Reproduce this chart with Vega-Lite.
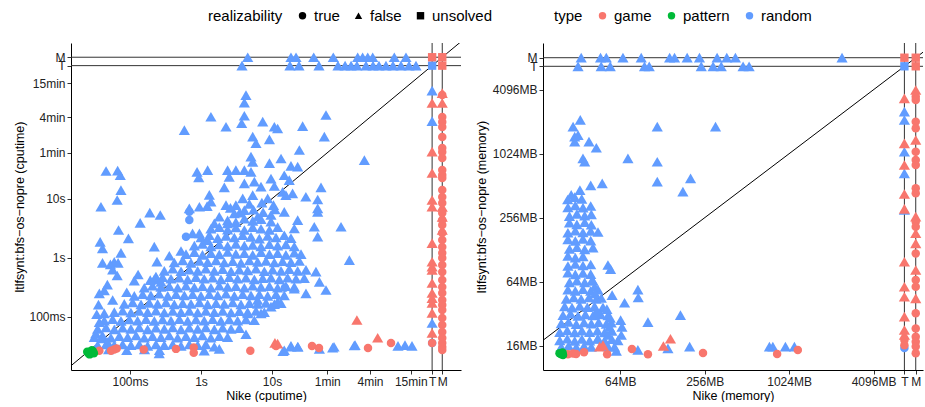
{
"$schema":"https://vega.github.io/schema/vega-lite/v6.json",
"padding":{"left":13,"top":8,"right":0,"bottom":0},
"bounds":"flush",
"spacing":82,
"config":{"font":"Liberation Sans","view":{"stroke":null},
"axis":{"domainColor":"#000","domainWidth":1,"tickColor":"#333","tickSize":4,"labelColor":"#222","labelFontSize":12,"labelPadding":2,"titleFontSize":12.5,"titleFontWeight":"normal","titleColor":"#000","grid":false,"labelOverlap":false,"labelFlush":false,"labelBound":false},
"legend":{"titleFontWeight":"normal","titleFontSize":15,"labelFontSize":15,"titleColor":"#000","labelColor":"#000","symbolSize":55,"symbolStrokeWidth":0}},
"resolve":{"legend":{"color":"independent","shape":"independent"}},
"datasets":{
"cpu":[
{"x":3.5,"y":5.8,"t":"random","r":"false"},{"x":5.5,"y":6.5,"t":"random","r":"false"},{"x":7.5,"y":5.9,"t":"random","r":"false"},{"x":11,"y":6.6,"t":"random","r":"false"},{"x":4.8,"y":8.2,"t":"random","r":"false"},{"x":7.2,"y":8.6,"t":"random","r":"false"},{"x":10.5,"y":7.8,"t":"random","r":"false"},{"x":2.6,"y":7.0,"t":"random","r":"false"},
{"x":0.036,"y":0.16,"t":"random","r":"false"},{"x":0.048,"y":0.35,"t":"random","r":"false"},{"x":0.066,"y":0.5,"t":"random","r":"false"},{"x":0.034,"y":0.11,"t":"random","r":"false"},{"x":0.09,"y":0.26,"t":"random","r":"false"},{"x":0.13,"y":0.52,"t":"random","r":"false"},
{"x":2.37,"y":4.3,"t":"random","r":"false"},{"x":3.1,"y":4.0,"t":"random","r":"false"},{"x":4.08,"y":4.6,"t":"random","r":"false"},{"x":5.35,"y":4.2,"t":"random","r":"false"},{"x":7.0,"y":4.5,"t":"random","r":"false"},{"x":9.68,"y":4.1,"t":"random","r":"false"},
{"x":1.38,"y":3.1,"t":"random","r":"false"},{"x":1.81,"y":3.3,"t":"random","r":"false"},{"x":2.37,"y":3.0,"t":"random","r":"false"},{"x":3.1,"y":3.25,"t":"random","r":"false"},{"x":4.08,"y":2.95,"t":"random","r":"false"},{"x":5.35,"y":3.3,"t":"random","r":"false"},{"x":7.0,"y":3.1,"t":"random","r":"false"},{"x":9.2,"y":2.95,"t":"random","r":"false"},{"x":12.0,"y":3.3,"t":"random","r":"false"},
{"x":1.0,"y":2.2,"t":"random","r":"false"},{"x":1.31,"y":2.4,"t":"random","r":"false"},{"x":1.72,"y":2.15,"t":"random","r":"false"},{"x":2.25,"y":2.35,"t":"random","r":"false"},{"x":2.95,"y":2.2,"t":"random","r":"false"},{"x":3.87,"y":2.4,"t":"random","r":"false"},{"x":5.06,"y":2.25,"t":"random","r":"false"},{"x":6.63,"y":2.1,"t":"random","r":"false"},{"x":8.69,"y":2.35,"t":"random","r":"false"},{"x":11.4,"y":2.2,"t":"random","r":"false"},{"x":14.9,"y":2.4,"t":"random","r":"false"},{"x":18.5,"y":2.15,"t":"random","r":"false"},
{"x":0.806,"y":1.6,"t":"random","r":"false"},{"x":1.05,"y":1.72,"t":"random","r":"false"},{"x":1.38,"y":1.55,"t":"random","r":"false"},{"x":1.81,"y":1.68,"t":"random","r":"false"},{"x":2.37,"y":1.58,"t":"random","r":"false"},{"x":3.1,"y":1.72,"t":"random","r":"false"},{"x":4.08,"y":1.6,"t":"random","r":"false"},{"x":5.35,"y":1.65,"t":"random","r":"false"},{"x":7.0,"y":1.55,"t":"random","r":"false"},{"x":9.2,"y":1.7,"t":"random","r":"false"},{"x":12.0,"y":1.6,"t":"random","r":"false"},{"x":15.7,"y":1.68,"t":"random","r":"false"},{"x":20.6,"y":1.55,"t":"random","r":"false"},
{"x":0.615,"y":1.15,"t":"random","r":"false"},{"x":0.806,"y":1.24,"t":"random","r":"false"},{"x":1.05,"y":1.12,"t":"random","r":"false"},{"x":1.38,"y":1.2,"t":"random","r":"false"},{"x":1.81,"y":1.14,"t":"random","r":"false"},{"x":2.37,"y":1.25,"t":"random","r":"false"},{"x":3.1,"y":1.16,"t":"random","r":"false"},{"x":4.08,"y":1.2,"t":"random","r":"false"},{"x":5.35,"y":1.12,"t":"random","r":"false"},{"x":7.0,"y":1.24,"t":"random","r":"false"},{"x":9.2,"y":1.15,"t":"random","r":"false"},{"x":12.0,"y":1.2,"t":"random","r":"false"},{"x":15.7,"y":1.12,"t":"random","r":"false"},{"x":20.6,"y":1.22,"t":"random","r":"false"},{"x":25.6,"y":1.15,"t":"random","r":"false"},
{"x":0.421,"y":0.83,"t":"random","r":"false"},{"x":0.553,"y":0.9,"t":"random","r":"false"},{"x":0.723,"y":0.82,"t":"random","r":"false"},{"x":0.95,"y":0.88,"t":"random","r":"false"},{"x":1.24,"y":0.84,"t":"random","r":"false"},{"x":1.63,"y":0.9,"t":"random","r":"false"},{"x":2.13,"y":0.83,"t":"random","r":"false"},{"x":2.8,"y":0.87,"t":"random","r":"false"},{"x":3.66,"y":0.82,"t":"random","r":"false"},{"x":4.8,"y":0.9,"t":"random","r":"false"},{"x":6.28,"y":0.85,"t":"random","r":"false"},{"x":8.23,"y":0.88,"t":"random","r":"false"},{"x":10.8,"y":0.83,"t":"random","r":"false"},{"x":14.1,"y":0.87,"t":"random","r":"false"},{"x":18.5,"y":0.84,"t":"random","r":"false"},{"x":24.3,"y":0.88,"t":"random","r":"false"},
{"x":0.304,"y":0.6,"t":"random","r":"false"},{"x":0.4,"y":0.65,"t":"random","r":"false"},{"x":0.523,"y":0.59,"t":"random","r":"false"},{"x":0.685,"y":0.63,"t":"random","r":"false"},{"x":0.898,"y":0.6,"t":"random","r":"false"},{"x":1.17,"y":0.65,"t":"random","r":"false"},{"x":1.54,"y":0.6,"t":"random","r":"false"},{"x":2.02,"y":0.64,"t":"random","r":"false"},{"x":2.65,"y":0.59,"t":"random","r":"false"},{"x":3.47,"y":0.63,"t":"random","r":"false"},{"x":4.54,"y":0.61,"t":"random","r":"false"},{"x":5.95,"y":0.65,"t":"random","r":"false"},{"x":7.8,"y":0.59,"t":"random","r":"false"},{"x":10.2,"y":0.63,"t":"random","r":"false"},{"x":13.4,"y":0.6,"t":"random","r":"false"},{"x":17.5,"y":0.64,"t":"random","r":"false"},{"x":23,"y":0.6,"t":"random","r":"false"},{"x":30.1,"y":0.62,"t":"random","r":"false"},
{"x":0.22,"y":0.43,"t":"random","r":"false"},{"x":0.288,"y":0.47,"t":"random","r":"false"},{"x":0.378,"y":0.44,"t":"random","r":"false"},{"x":0.496,"y":0.46,"t":"random","r":"false"},{"x":0.649,"y":0.43,"t":"random","r":"false"},{"x":0.85,"y":0.47,"t":"random","r":"false"},{"x":1.11,"y":0.44,"t":"random","r":"false"},{"x":1.46,"y":0.46,"t":"random","r":"false"},{"x":1.91,"y":0.43,"t":"random","r":"false"},{"x":2.5,"y":0.47,"t":"random","r":"false"},{"x":3.28,"y":0.44,"t":"random","r":"false"},{"x":4.3,"y":0.46,"t":"random","r":"false"},{"x":5.64,"y":0.43,"t":"random","r":"false"},{"x":7.4,"y":0.45,"t":"random","r":"false"},{"x":9.68,"y":0.46,"t":"random","r":"false"},{"x":12.7,"y":0.43,"t":"random","r":"false"},{"x":16.6,"y":0.46,"t":"random","r":"false"},{"x":21.8,"y":0.44,"t":"random","r":"false"},{"x":28.5,"y":0.45,"t":"random","r":"false"},
{"x":0.159,"y":0.31,"t":"random","r":"false"},{"x":0.208,"y":0.335,"t":"random","r":"false"},{"x":0.273,"y":0.32,"t":"random","r":"false"},{"x":0.358,"y":0.33,"t":"random","r":"false"},{"x":0.469,"y":0.31,"t":"random","r":"false"},{"x":0.615,"y":0.335,"t":"random","r":"false"},{"x":0.806,"y":0.315,"t":"random","r":"false"},{"x":1.05,"y":0.33,"t":"random","r":"false"},{"x":1.38,"y":0.31,"t":"random","r":"false"},{"x":1.81,"y":0.335,"t":"random","r":"false"},{"x":2.37,"y":0.32,"t":"random","r":"false"},{"x":3.1,"y":0.33,"t":"random","r":"false"},{"x":4.08,"y":0.31,"t":"random","r":"false"},{"x":5.35,"y":0.335,"t":"random","r":"false"},{"x":7.0,"y":0.32,"t":"random","r":"false"},{"x":9.2,"y":0.33,"t":"random","r":"false"},{"x":12.0,"y":0.31,"t":"random","r":"false"},{"x":15.7,"y":0.33,"t":"random","r":"false"},{"x":20.6,"y":0.32,"t":"random","r":"false"},
{"x":0.115,"y":0.225,"t":"random","r":"false"},{"x":0.151,"y":0.24,"t":"random","r":"false"},{"x":0.197,"y":0.23,"t":"random","r":"false"},{"x":0.258,"y":0.245,"t":"random","r":"false"},{"x":0.34,"y":0.225,"t":"random","r":"false"},{"x":0.445,"y":0.24,"t":"random","r":"false"},{"x":0.583,"y":0.23,"t":"random","r":"false"},{"x":0.764,"y":0.24,"t":"random","r":"false"},{"x":1.0,"y":0.225,"t":"random","r":"false"},{"x":1.31,"y":0.24,"t":"random","r":"false"},{"x":1.72,"y":0.23,"t":"random","r":"false"},{"x":2.25,"y":0.245,"t":"random","r":"false"},{"x":2.95,"y":0.225,"t":"random","r":"false"},{"x":3.87,"y":0.24,"t":"random","r":"false"},{"x":5.06,"y":0.23,"t":"random","r":"false"},{"x":6.63,"y":0.24,"t":"random","r":"false"},{"x":8.69,"y":0.225,"t":"random","r":"false"},{"x":11.4,"y":0.24,"t":"random","r":"false"},{"x":14.9,"y":0.23,"t":"random","r":"false"},
{"x":0.0831,"y":0.165,"t":"random","r":"false"},{"x":0.109,"y":0.175,"t":"random","r":"false"},{"x":0.143,"y":0.162,"t":"random","r":"false"},{"x":0.187,"y":0.172,"t":"random","r":"false"},{"x":0.245,"y":0.165,"t":"random","r":"false"},{"x":0.321,"y":0.175,"t":"random","r":"false"},{"x":0.421,"y":0.162,"t":"random","r":"false"},{"x":0.553,"y":0.17,"t":"random","r":"false"},{"x":0.723,"y":0.165,"t":"random","r":"false"},{"x":0.95,"y":0.175,"t":"random","r":"false"},{"x":1.24,"y":0.162,"t":"random","r":"false"},{"x":1.63,"y":0.17,"t":"random","r":"false"},{"x":2.13,"y":0.165,"t":"random","r":"false"},{"x":2.8,"y":0.175,"t":"random","r":"false"},{"x":3.66,"y":0.162,"t":"random","r":"false"},{"x":4.8,"y":0.17,"t":"random","r":"false"},{"x":6.28,"y":0.165,"t":"random","r":"false"},{"x":8.23,"y":0.172,"t":"random","r":"false"},{"x":10.8,"y":0.163,"t":"random","r":"false"},{"x":13.4,"y":0.17,"t":"random","r":"false"},
{"x":0.0601,"y":0.12,"t":"random","r":"false"},{"x":0.0788,"y":0.127,"t":"random","r":"false"},{"x":0.103,"y":0.118,"t":"random","r":"false"},{"x":0.135,"y":0.125,"t":"random","r":"false"},{"x":0.177,"y":0.12,"t":"random","r":"false"},{"x":0.232,"y":0.127,"t":"random","r":"false"},{"x":0.304,"y":0.118,"t":"random","r":"false"},{"x":0.4,"y":0.125,"t":"random","r":"false"},{"x":0.523,"y":0.12,"t":"random","r":"false"},{"x":0.685,"y":0.126,"t":"random","r":"false"},{"x":0.898,"y":0.118,"t":"random","r":"false"},{"x":1.17,"y":0.125,"t":"random","r":"false"},{"x":1.54,"y":0.12,"t":"random","r":"false"},{"x":2.02,"y":0.126,"t":"random","r":"false"},{"x":2.65,"y":0.118,"t":"random","r":"false"},{"x":3.47,"y":0.124,"t":"random","r":"false"},{"x":4.54,"y":0.12,"t":"random","r":"false"},{"x":5.95,"y":0.125,"t":"random","r":"false"},{"x":7.8,"y":0.12,"t":"random","r":"false"},
{"x":0.0434,"y":0.086,"t":"random","r":"false"},{"x":0.057,"y":0.091,"t":"random","r":"false"},{"x":0.0746,"y":0.085,"t":"random","r":"false"},{"x":0.0977,"y":0.09,"t":"random","r":"false"},{"x":0.128,"y":0.086,"t":"random","r":"false"},{"x":0.168,"y":0.091,"t":"random","r":"false"},{"x":0.22,"y":0.085,"t":"random","r":"false"},{"x":0.288,"y":0.09,"t":"random","r":"false"},{"x":0.378,"y":0.086,"t":"random","r":"false"},{"x":0.496,"y":0.091,"t":"random","r":"false"},{"x":0.649,"y":0.085,"t":"random","r":"false"},{"x":0.85,"y":0.09,"t":"random","r":"false"},{"x":1.11,"y":0.086,"t":"random","r":"false"},{"x":1.46,"y":0.091,"t":"random","r":"false"},{"x":1.91,"y":0.085,"t":"random","r":"false"},{"x":2.5,"y":0.09,"t":"random","r":"false"},{"x":3.28,"y":0.086,"t":"random","r":"false"},{"x":4.3,"y":0.09,"t":"random","r":"false"},{"x":5.64,"y":0.087,"t":"random","r":"false"},
{"x":0.035,"y":0.062,"t":"random","r":"false"},{"x":0.046,"y":0.066,"t":"random","r":"false"},{"x":0.0601,"y":0.061,"t":"random","r":"false"},{"x":0.0788,"y":0.065,"t":"random","r":"false"},{"x":0.103,"y":0.062,"t":"random","r":"false"},{"x":0.135,"y":0.066,"t":"random","r":"false"},{"x":0.177,"y":0.061,"t":"random","r":"false"},{"x":0.232,"y":0.065,"t":"random","r":"false"},{"x":0.304,"y":0.062,"t":"random","r":"false"},{"x":0.4,"y":0.066,"t":"random","r":"false"},{"x":0.523,"y":0.061,"t":"random","r":"false"},{"x":0.685,"y":0.065,"t":"random","r":"false"},{"x":0.898,"y":0.062,"t":"random","r":"false"},{"x":1.17,"y":0.066,"t":"random","r":"false"},{"x":1.54,"y":0.061,"t":"random","r":"false"},{"x":2.02,"y":0.065,"t":"random","r":"false"},{"x":2.65,"y":0.062,"t":"random","r":"false"},{"x":3.47,"y":0.064,"t":"random","r":"false"},
{"x":0.0314,"y":0.045,"t":"random","r":"false"},{"x":0.041,"y":0.048,"t":"random","r":"false"},{"x":0.0539,"y":0.044,"t":"random","r":"false"},{"x":0.0707,"y":0.047,"t":"random","r":"false"},{"x":0.0927,"y":0.045,"t":"random","r":"false"},{"x":0.122,"y":0.048,"t":"random","r":"false"},{"x":0.159,"y":0.044,"t":"random","r":"false"},{"x":0.208,"y":0.047,"t":"random","r":"false"},{"x":0.273,"y":0.045,"t":"random","r":"false"},{"x":0.358,"y":0.048,"t":"random","r":"false"},{"x":0.469,"y":0.044,"t":"random","r":"false"},{"x":0.615,"y":0.047,"t":"random","r":"false"},{"x":0.806,"y":0.045,"t":"random","r":"false"},{"x":1.05,"y":0.048,"t":"random","r":"false"},{"x":1.38,"y":0.044,"t":"random","r":"false"},{"x":1.81,"y":0.047,"t":"random","r":"false"},{"x":2.37,"y":0.045,"t":"random","r":"false"},
{"x":0.035,"y":0.033,"t":"random","r":"false"},{"x":0.046,"y":0.034,"t":"random","r":"false"},{"x":0.0601,"y":0.032,"t":"random","r":"false"},{"x":0.0788,"y":0.034,"t":"random","r":"false"},{"x":0.103,"y":0.033,"t":"random","r":"false"},{"x":0.135,"y":0.034,"t":"random","r":"false"},{"x":0.177,"y":0.032,"t":"random","r":"false"},{"x":0.232,"y":0.034,"t":"random","r":"false"},{"x":0.304,"y":0.033,"t":"random","r":"false"},{"x":0.4,"y":0.034,"t":"random","r":"false"},{"x":0.523,"y":0.032,"t":"random","r":"false"},{"x":0.685,"y":0.034,"t":"random","r":"false"},{"x":0.898,"y":0.033,"t":"random","r":"false"},{"x":1.17,"y":0.034,"t":"random","r":"false"},
{"x":0.05,"y":0.028,"t":"random","r":"false"},{"x":0.09,"y":0.027,"t":"random","r":"false"},{"x":0.16,"y":0.028,"t":"random","r":"false"},{"x":0.26,"y":0.027,"t":"random","r":"false"},
{"x":4.3,"y":570,"t":"random","r":"false"},{"x":4.08,"y":425,"t":"random","r":"false"},{"x":1.38,"y":245,"t":"random","r":"false"},{"x":4.08,"y":255,"t":"random","r":"false"},{"x":3.74,"y":190,"t":"random","r":"false"},{"x":2.25,"y":166,"t":"random","r":"false"},{"x":0.583,"y":145,"t":"random","r":"false"},{"x":7.4,"y":203,"t":"random","r":"false"},{"x":10.8,"y":166,"t":"random","r":"false"},{"x":12.0,"y":155,"t":"random","r":"false"},{"x":27,"y":170,"t":"random","r":"false"},{"x":57.6,"y":262,"t":"random","r":"false"},{"x":54.6,"y":113,"t":"random","r":"false"},{"x":5.35,"y":113,"t":"random","r":"false"},{"x":5.95,"y":87,"t":"random","r":"false"},{"x":9.2,"y":101,"t":"random","r":"false"},{"x":24.3,"y":67,"t":"random","r":"false"},{"x":5.06,"y":51.5,"t":"random","r":"false"},{"x":5.35,"y":42,"t":"random","r":"false"},{"x":9.2,"y":40,"t":"random","r":"false"},{"x":13.4,"y":48,"t":"random","r":"false"},{"x":18.5,"y":36,"t":"random","r":"false"},{"x":23,"y":35,"t":"random","r":"false"},{"x":200,"y":45,"t":"random","r":"false"},
{"x":0.046,"y":29.5,"t":"random","r":"false"},{"x":0.067,"y":30,"t":"random","r":"false"},{"x":0.073,"y":25,"t":"random","r":"false"},{"x":0.88,"y":28.5,"t":"random","r":"false"},{"x":0.93,"y":23,"t":"random","r":"false"},{"x":1.24,"y":30.5,"t":"random","r":"false"},{"x":2.37,"y":30.5,"t":"random","r":"false"},{"x":2.5,"y":23.5,"t":"random","r":"false"},{"x":3.1,"y":30.5,"t":"random","r":"false"},{"x":4.08,"y":30.5,"t":"random","r":"false"},{"x":5.06,"y":28.5,"t":"random","r":"false"},{"x":5.64,"y":19.5,"t":"random","r":"false"},{"x":4.08,"y":18.2,"t":"random","r":"false"},{"x":9.68,"y":21.9,"t":"random","r":"false"},{"x":14.9,"y":25,"t":"random","r":"false"},{"x":17.5,"y":20.7,"t":"random","r":"false"},{"x":2.13,"y":15.6,"t":"random","r":"false"},{"x":7.0,"y":16,"t":"random","r":"false"},{"x":10.8,"y":16.4,"t":"random","r":"false"},{"x":14.1,"y":13.1,"t":"random","r":"false"},{"x":19.5,"y":12.3,"t":"random","r":"false"},{"x":49,"y":15.6,"t":"random","r":"false"},
{"x":0.0746,"y":14,"t":"random","r":"false"},{"x":0.066,"y":9.5,"t":"random","r":"false"},{"x":0.039,"y":7.3,"t":"random","r":"false"},{"x":1.31,"y":11.6,"t":"random","r":"false"},{"x":1.38,"y":8.9,"t":"random","r":"false"},{"x":0.685,"y":6.85,"t":"random","r":"false"},{"x":0.95,"y":7.3,"t":"random","r":"false"},{"x":1.22,"y":7.5,"t":"random","r":"false"},{"x":2.25,"y":7.8,"t":"random","r":"false"},{"x":3.1,"y":7.8,"t":"random","r":"false"},{"x":3.87,"y":10.1,"t":"random","r":"false"},{"x":5.35,"y":11.5,"t":"random","r":"false"},{"x":8.69,"y":10.1,"t":"random","r":"false"},{"x":15.7,"y":11.5,"t":"random","r":"false"},{"x":30,"y":10.8,"t":"random","r":"false"},{"x":44,"y":9.7,"t":"random","r":"false"},{"x":44,"y":6.85,"t":"random","r":"false"},{"x":44,"y":6.0,"t":"random","r":"false"},
{"x":0.19,"y":5.8,"t":"random","r":"false"},{"x":0.267,"y":5.3,"t":"random","r":"false"},{"x":0.139,"y":3.9,"t":"random","r":"false"},{"x":0.069,"y":2.95,"t":"random","r":"false"},{"x":0.095,"y":2.12,"t":"random","r":"false"},{"x":0.038,"y":1.85,"t":"random","r":"false"},{"x":0.041,"y":1.44,"t":"random","r":"false"},{"x":0.0746,"y":1.21,"t":"random","r":"false"},{"x":0.041,"y":0.82,"t":"random","r":"false"},{"x":0.053,"y":0.77,"t":"random","r":"false"},{"x":0.06,"y":0.85,"t":"random","r":"false"},{"x":0.068,"y":0.82,"t":"random","r":"false"},{"x":0.057,"y":0.63,"t":"random","r":"false"},{"x":0.22,"y":1.54,"t":"random","r":"false"},{"x":0.24,"y":0.86,"t":"random","r":"false"},{"x":0.115,"y":0.41,"t":"random","r":"false"},{"x":0.193,"y":0.418,"t":"random","r":"false"},{"x":0.232,"y":0.48,"t":"random","r":"false"},{"x":0.273,"y":0.39,"t":"random","r":"false"},{"x":0.358,"y":1.08,"t":"random","r":"false"},{"x":0.523,"y":1.3,"t":"random","r":"false"},
{"x":0.76,"y":2.58,"t":"random","r":"false"},{"x":0.95,"y":2.58,"t":"random","r":"false"},{"x":1.24,"y":1.99,"t":"random","r":"false"},{"x":1.54,"y":3.83,"t":"random","r":"false"},{"x":1.81,"y":4.95,"t":"random","r":"false"},{"x":2.37,"y":3.83,"t":"random","r":"false"},{"x":2.95,"y":5.64,"t":"random","r":"false"},{"x":4.08,"y":6.4,"t":"random","r":"false"},{"x":6.28,"y":4.95,"t":"random","r":"false"},{"x":9.68,"y":5.3,"t":"random","r":"false"},{"x":14.9,"y":6.0,"t":"random","r":"false"},{"x":23,"y":4.35,"t":"random","r":"false"},{"x":20.6,"y":3.13,"t":"random","r":"false"},{"x":39.4,"y":3.35,"t":"random","r":"false"},{"x":44,"y":2.27,"t":"random","r":"false"},{"x":93.8,"y":3.35,"t":"random","r":"false"},{"x":123,"y":0.913,"t":"random","r":"false"},{"x":41.6,"y":0.58,"t":"random","r":"false"},{"x":46.5,"y":0.39,"t":"random","r":"false"},{"x":57.6,"y":0.284,"t":"random","r":"false"},{"x":30.1,"y":0.249,"t":"random","r":"false"},{"x":20.6,"y":0.3,"t":"random","r":"false"},{"x":12,"y":0.18,"t":"random","r":"false"},{"x":6.28,"y":0.192,"t":"random","r":"false"},{"x":7.0,"y":0.114,"t":"random","r":"false"},{"x":4.54,"y":0.114,"t":"random","r":"false"},{"x":9.68,"y":0.148,"t":"random","r":"false"},{"x":4.3,"y":0.0505,"t":"random","r":"false"},
{"x":18.5,"y":0.031,"t":"random","r":"false"},{"x":23,"y":0.031,"t":"random","r":"false"},{"x":14.9,"y":0.027,"t":"random","r":"false"},{"x":46.5,"y":0.0285,"t":"random","r":"false"},{"x":71.5,"y":0.03,"t":"random","r":"false"},{"x":144,"y":0.0325,"t":"random","r":"false"},{"x":1.54,"y":0.031,"t":"random","r":"false"},{"x":1.81,"y":0.0285,"t":"random","r":"false"},{"x":1.11,"y":0.0266,"t":"random","r":"false"},{"x":0.258,"y":0.0239,"t":"random","r":"false"},{"x":0.0434,"y":0.28,"t":"random","r":"false"},{"x":0.037,"y":0.249,"t":"random","r":"false"},{"x":0.057,"y":0.192,"t":"random","r":"false"},{"x":0.0434,"y":0.114,"t":"random","r":"false"},{"x":0.037,"y":0.081,"t":"random","r":"false"},{"x":0.033,"y":0.052,"t":"random","r":"false"},{"x":0.041,"y":0.043,"t":"random","r":"false"},{"x":0.0484,"y":0.037,"t":"random","r":"false"},{"x":0.0601,"y":0.033,"t":"random","r":"false"},{"x":14.3,"y":0.026,"t":"random","r":"false"},{"x":18.5,"y":0.032,"t":"random","r":"false"},{"x":23.2,"y":0.031,"t":"random","r":"false"},{"x":74.7,"y":0.031,"t":"random","r":"false"},{"x":148,"y":0.033,"t":"random","r":"false"},{"x":595,"y":0.032,"t":"random","r":"false"},{"x":747,"y":0.033,"t":"random","r":"false"},{"x":937,"y":0.032,"t":"random","r":"false"},
{"x":4.55,"y":2500,"t":"random","r":"false"},{"x":18.5,"y":2500,"t":"random","r":"false"},{"x":21.8,"y":2500,"t":"random","r":"false"},{"x":38.7,"y":2500,"t":"random","r":"false"},{"x":73,"y":2500,"t":"random","r":"false"},{"x":161,"y":2500,"t":"random","r":"false"},{"x":189,"y":2500,"t":"random","r":"false"},{"x":223,"y":2500,"t":"random","r":"false"},{"x":262,"y":2500,"t":"random","r":"false"},{"x":528,"y":2500,"t":"random","r":"false"},{"x":771,"y":2500,"t":"random","r":"false"},
{"x":3.78,"y":1800,"t":"random","r":"false"},{"x":17.9,"y":1800,"t":"random","r":"false"},{"x":24,"y":1800,"t":"random","r":"false"},{"x":45.9,"y":1800,"t":"random","r":"false"},{"x":85,"y":1800,"t":"random","r":"false"},{"x":107,"y":1800,"t":"random","r":"false"},{"x":130,"y":1800,"t":"random","r":"false"},{"x":157,"y":1800,"t":"random","r":"false"},{"x":211,"y":1800,"t":"random","r":"false"},{"x":265,"y":1800,"t":"random","r":"false"},{"x":321,"y":1800,"t":"random","r":"false"},{"x":403,"y":1800,"t":"random","r":"false"},{"x":506,"y":1800,"t":"random","r":"false"},{"x":656,"y":1800,"t":"random","r":"false"},{"x":851,"y":1800,"t":"random","r":"false"},{"x":1067,"y":1800,"t":"random","r":"false"},
{"x":1800,"y":677,"t":"random","r":"false"},{"x":1800,"y":207,"t":"random","r":"false"},{"x":1800,"y":0.0782,"t":"random","r":"false"},
{"x":0.685,"y":6.0,"t":"random","r":"true"},{"x":0.685,"y":4.35,"t":"random","r":"true"},{"x":0.615,"y":2.27,"t":"random","r":"true"},{"x":15.2,"y":0.31,"t":"random","r":"true"},{"x":1800,"y":0.0358,"t":"random","r":"true"},
{"x":1800,"y":1800,"t":"random","r":"unsolved"},
{"x":1800,"y":419,"t":"game","r":"false"},{"x":1800,"y":62.6,"t":"game","r":"false"},{"x":1800,"y":27.3,"t":"game","r":"false"},{"x":1800,"y":9.5,"t":"game","r":"false"},{"x":1800,"y":7.32,"t":"game","r":"false"},{"x":1800,"y":1.77,"t":"game","r":"false"},{"x":1800,"y":0.855,"t":"game","r":"false"},{"x":1800,"y":0.704,"t":"game","r":"false"},{"x":1800,"y":0.619,"t":"game","r":"false"},{"x":1800,"y":0.373,"t":"game","r":"false"},{"x":1800,"y":0.252,"t":"game","r":"false"},{"x":1800,"y":0.207,"t":"game","r":"false"},{"x":1800,"y":0.171,"t":"game","r":"false"},{"x":1800,"y":0.116,"t":"game","r":"false"},{"x":1800,"y":0.053,"t":"game","r":"false"},{"x":1800,"y":0.0358,"t":"game","r":"true"},
{"x":2500,"y":617,"t":"game","r":"false"},{"x":2500,"y":419,"t":"game","r":"false"},{"x":2500,"y":7.23,"t":"game","r":"false"},{"x":2500,"y":4.9,"t":"game","r":"false"},{"x":2500,"y":2.95,"t":"game","r":"false"},
{"x":2500,"y":572,"t":"game","r":"true"},{"x":2500,"y":243,"t":"game","r":"true"},{"x":2500,"y":200,"t":"game","r":"true"},{"x":2500,"y":164,"t":"game","r":"true"},{"x":2500,"y":111,"t":"game","r":"true"},{"x":2500,"y":72.3,"t":"game","r":"true"},{"x":2500,"y":61.9,"t":"game","r":"true"},{"x":2500,"y":49,"t":"game","r":"true"},{"x":2500,"y":30.6,"t":"game","r":"true"},{"x":2500,"y":25.2,"t":"game","r":"true"},{"x":2500,"y":22.4,"t":"game","r":"true"},{"x":2500,"y":14,"t":"game","r":"true"},{"x":2500,"y":10.7,"t":"game","r":"true"},{"x":2500,"y":8.45,"t":"game","r":"true"},{"x":2500,"y":5.72,"t":"game","r":"true"},{"x":2500,"y":4.36,"t":"game","r":"true"},{"x":2500,"y":3.58,"t":"game","r":"true"},{"x":2500,"y":2.62,"t":"game","r":"true"},{"x":2500,"y":2.0,"t":"game","r":"true"},{"x":2500,"y":1.52,"t":"game","r":"true"},{"x":2500,"y":1.2,"t":"game","r":"true"},{"x":2500,"y":0.99,"t":"game","r":"true"},{"x":2500,"y":0.752,"t":"game","r":"true"},{"x":2500,"y":0.573,"t":"game","r":"true"},{"x":2500,"y":0.419,"t":"game","r":"true"},{"x":2500,"y":0.319,"t":"game","r":"true"},{"x":2500,"y":0.252,"t":"game","r":"true"},{"x":2500,"y":0.192,"t":"game","r":"true"},{"x":2500,"y":0.158,"t":"game","r":"true"},{"x":2500,"y":0.13,"t":"game","r":"true"},{"x":2500,"y":0.095,"t":"game","r":"true"},{"x":2500,"y":0.0723,"t":"game","r":"true"},{"x":2500,"y":0.055,"t":"game","r":"true"},{"x":2500,"y":0.0436,"t":"game","r":"true"},{"x":2500,"y":0.0358,"t":"game","r":"true"},{"x":2500,"y":0.0306,"t":"game","r":"true"},{"x":2500,"y":0.0273,"t":"game","r":"true"},
{"x":0.037,"y":0.0266,"t":"game","r":"true"},{"x":0.054,"y":0.0266,"t":"game","r":"true"},{"x":0.06,"y":0.0278,"t":"game","r":"true"},{"x":0.065,"y":0.029,"t":"game","r":"true"},{"x":0.156,"y":0.0278,"t":"game","r":"true"},{"x":0.445,"y":0.0285,"t":"game","r":"true"},{"x":0.79,"y":0.03,"t":"game","r":"true"},{"x":0.79,"y":0.0245,"t":"game","r":"true"},{"x":4.95,"y":0.0265,"t":"game","r":"true"},{"x":11.4,"y":0.032,"t":"game","r":"true"},{"x":36.6,"y":0.032,"t":"game","r":"true"},{"x":45.9,"y":0.0295,"t":"game","r":"true"},{"x":225,"y":0.0295,"t":"game","r":"true"},{"x":474,"y":0.0358,"t":"game","r":"true"},
{"x":11,"y":0.036,"t":"game","r":"false"},{"x":12,"y":0.035,"t":"game","r":"false"},{"x":157,"y":0.088,"t":"game","r":"false"},{"x":308,"y":0.044,"t":"game","r":"false"},
{"x":1800,"y":2500,"t":"game","r":"unsolved"},{"x":2500,"y":2500,"t":"game","r":"unsolved"},{"x":2500,"y":1800,"t":"game","r":"unsolved"},
{"x":0.026,"y":0.024,"t":"pattern","r":"true"},{"x":0.028,"y":0.025,"t":"pattern","r":"true"},{"x":0.03,"y":0.026,"t":"pattern","r":"true"},{"x":0.027,"y":0.023,"t":"pattern","r":"true"},{"x":0.029,"y":0.027,"t":"pattern","r":"true"},{"x":0.031,"y":0.024,"t":"pattern","r":"true"},{"x":0.025,"y":0.0255,"t":"pattern","r":"true"}
],
"mem":[
{"x":27,"y":380,"t":"random","r":"false"},{"x":30.3,"y":400,"t":"random","r":"false"},{"x":34,"y":385,"t":"random","r":"false"},
{"x":27.1,"y":320,"t":"random","r":"false"},{"x":30.6,"y":335,"t":"random","r":"false"},{"x":34.7,"y":318,"t":"random","r":"false"},{"x":39.4,"y":330,"t":"random","r":"false"},
{"x":27.8,"y":265,"t":"random","r":"false"},{"x":31.4,"y":278,"t":"random","r":"false"},{"x":35.7,"y":268,"t":"random","r":"false"},{"x":39.8,"y":275,"t":"random","r":"false"},
{"x":27.8,"y":230,"t":"random","r":"false"},{"x":31.4,"y":222,"t":"random","r":"false"},{"x":35.7,"y":232,"t":"random","r":"false"},{"x":39.8,"y":220,"t":"random","r":"false"},
{"x":27.1,"y":185,"t":"random","r":"false"},{"x":30.6,"y":193,"t":"random","r":"false"},{"x":34.7,"y":186,"t":"random","r":"false"},{"x":39.4,"y":192,"t":"random","r":"false"},{"x":44.4,"y":188,"t":"random","r":"false"},
{"x":27.1,"y":160,"t":"random","r":"false"},{"x":30.6,"y":155,"t":"random","r":"false"},{"x":34.7,"y":162,"t":"random","r":"false"},{"x":39.4,"y":156,"t":"random","r":"false"},
{"x":27.8,"y":130,"t":"random","r":"false"},{"x":31.4,"y":135,"t":"random","r":"false"},{"x":35.7,"y":129,"t":"random","r":"false"},{"x":40.9,"y":134,"t":"random","r":"false"},
{"x":27.1,"y":112,"t":"random","r":"false"},{"x":30.6,"y":108,"t":"random","r":"false"},{"x":34.7,"y":111,"t":"random","r":"false"},
{"x":27.1,"y":90,"t":"random","r":"false"},{"x":30.6,"y":94,"t":"random","r":"false"},{"x":34.7,"y":91,"t":"random","r":"false"},{"x":39.4,"y":93,"t":"random","r":"false"},
{"x":27.1,"y":78,"t":"random","r":"false"},{"x":30.6,"y":75,"t":"random","r":"false"},{"x":34.7,"y":77.5,"t":"random","r":"false"},{"x":39.4,"y":75.5,"t":"random","r":"false"},
{"x":27.8,"y":63,"t":"random","r":"false"},{"x":31.4,"y":65.5,"t":"random","r":"false"},{"x":35.7,"y":63,"t":"random","r":"false"},{"x":40.9,"y":65,"t":"random","r":"false"},
{"x":27.1,"y":54,"t":"random","r":"false"},{"x":30.6,"y":52.5,"t":"random","r":"false"},{"x":34.7,"y":54.5,"t":"random","r":"false"},{"x":39.4,"y":52.5,"t":"random","r":"false"},{"x":44.4,"y":54,"t":"random","r":"false"},
{"x":26.4,"y":44,"t":"random","r":"false"},{"x":29.8,"y":45.5,"t":"random","r":"false"},{"x":33.7,"y":44,"t":"random","r":"false"},{"x":38.3,"y":45.5,"t":"random","r":"false"},{"x":43.2,"y":44,"t":"random","r":"false"},{"x":46.9,"y":45,"t":"random","r":"false"},
{"x":25.7,"y":37.5,"t":"random","r":"false"},{"x":29,"y":36.5,"t":"random","r":"false"},{"x":32.9,"y":38,"t":"random","r":"false"},{"x":37.3,"y":36.8,"t":"random","r":"false"},{"x":42,"y":37.6,"t":"random","r":"false"},{"x":48.2,"y":36.8,"t":"random","r":"false"},
{"x":25,"y":31,"t":"random","r":"false"},{"x":28.3,"y":32,"t":"random","r":"false"},{"x":32,"y":30.6,"t":"random","r":"false"},{"x":36.1,"y":31.6,"t":"random","r":"false"},{"x":40.9,"y":30.8,"t":"random","r":"false"},{"x":46.4,"y":31.5,"t":"random","r":"false"},{"x":52.3,"y":30.8,"t":"random","r":"false"},
{"x":24.3,"y":26,"t":"random","r":"false"},{"x":27.4,"y":26.8,"t":"random","r":"false"},{"x":31.1,"y":25.6,"t":"random","r":"false"},{"x":35.3,"y":26.5,"t":"random","r":"false"},{"x":39.8,"y":25.8,"t":"random","r":"false"},{"x":44.9,"y":26.6,"t":"random","r":"false"},{"x":50.9,"y":25.7,"t":"random","r":"false"},{"x":55.2,"y":26.4,"t":"random","r":"false"},
{"x":23.7,"y":21.5,"t":"random","r":"false"},{"x":26.8,"y":22.3,"t":"random","r":"false"},{"x":30.3,"y":21.4,"t":"random","r":"false"},{"x":34.1,"y":22.2,"t":"random","r":"false"},{"x":38.7,"y":21.5,"t":"random","r":"false"},{"x":44,"y":22.2,"t":"random","r":"false"},{"x":49.5,"y":21.4,"t":"random","r":"false"},{"x":55.8,"y":22,"t":"random","r":"false"},
{"x":23.7,"y":18,"t":"random","r":"false"},{"x":26.8,"y":18.6,"t":"random","r":"false"},{"x":30.3,"y":17.8,"t":"random","r":"false"},{"x":34.1,"y":18.5,"t":"random","r":"false"},{"x":38.7,"y":17.9,"t":"random","r":"false"},{"x":44,"y":18.5,"t":"random","r":"false"},{"x":49.5,"y":17.9,"t":"random","r":"false"},{"x":55.8,"y":18.4,"t":"random","r":"false"},{"x":61.6,"y":18,"t":"random","r":"false"},
{"x":24.3,"y":15.6,"t":"random","r":"false"},{"x":27.4,"y":16,"t":"random","r":"false"},{"x":31.1,"y":15.5,"t":"random","r":"false"},{"x":35.3,"y":15.9,"t":"random","r":"false"},{"x":39.8,"y":15.6,"t":"random","r":"false"},{"x":52.3,"y":15.8,"t":"random","r":"false"},{"x":58.3,"y":15.6,"t":"random","r":"false"},
{"x":33.2,"y":2130,"t":"random","r":"false"},{"x":29.5,"y":1838,"t":"random","r":"false"},{"x":30.3,"y":1480,"t":"random","r":"false"},{"x":32,"y":1534,"t":"random","r":"false"},{"x":30.3,"y":1328,"t":"random","r":"false"},{"x":38.3,"y":1328,"t":"random","r":"false"},{"x":43.2,"y":1166,"t":"random","r":"false"},{"x":34.7,"y":925,"t":"random","r":"false"},{"x":35.7,"y":861,"t":"random","r":"false"},{"x":72.6,"y":925,"t":"random","r":"false"},{"x":117.5,"y":1838,"t":"random","r":"false"},{"x":117.5,"y":861,"t":"random","r":"false"},{"x":306,"y":1838,"t":"random","r":"false"},{"x":117.5,"y":560,"t":"random","r":"false"},{"x":203,"y":600,"t":"random","r":"false"},{"x":179,"y":450,"t":"random","r":"false"},{"x":47.6,"y":539,"t":"random","r":"false"},{"x":39.4,"y":515,"t":"random","r":"false"},{"x":33,"y":466,"t":"random","r":"false"},{"x":28.6,"y":420,"t":"random","r":"false"},
{"x":52.3,"y":92,"t":"random","r":"false"},{"x":54.6,"y":84,"t":"random","r":"false"},{"x":40.4,"y":66.4,"t":"random","r":"false"},{"x":42,"y":57.4,"t":"random","r":"false"},{"x":56,"y":47.9,"t":"random","r":"false"},{"x":42.4,"y":49.7,"t":"random","r":"false"},{"x":85.5,"y":54,"t":"random","r":"false"},{"x":86,"y":45.5,"t":"random","r":"false"},{"x":68.7,"y":40.6,"t":"random","r":"false"},{"x":51.4,"y":35.4,"t":"random","r":"false"},{"x":54.3,"y":29.3,"t":"random","r":"false"},{"x":53.7,"y":24.1,"t":"random","r":"false"},{"x":64.4,"y":27.9,"t":"random","r":"false"},{"x":65.8,"y":24.1,"t":"random","r":"false"},{"x":100.8,"y":26.7,"t":"random","r":"false"},{"x":172,"y":31,"t":"random","r":"false"},{"x":65.1,"y":20.2,"t":"random","r":"false"},{"x":52.3,"y":20.2,"t":"random","r":"false"},{"x":44.4,"y":18.7,"t":"random","r":"false"},{"x":60,"y":14.3,"t":"random","r":"false"},{"x":85.5,"y":14.6,"t":"random","r":"false"},{"x":140,"y":15.1,"t":"random","r":"false"},{"x":200,"y":15.7,"t":"random","r":"false"},{"x":741,"y":15.7,"t":"random","r":"false"},{"x":784,"y":15.7,"t":"random","r":"false"},{"x":964,"y":15.7,"t":"random","r":"false"},{"x":1117,"y":15.7,"t":"random","r":"false"},
{"x":33.7,"y":8192,"t":"random","r":"false"},{"x":46.3,"y":8192,"t":"random","r":"false"},{"x":50.9,"y":8192,"t":"random","r":"false"},{"x":66.9,"y":8192,"t":"random","r":"false"},{"x":90.3,"y":8192,"t":"random","r":"false"},{"x":144,"y":8192,"t":"random","r":"false"},{"x":156,"y":8192,"t":"random","r":"false"},{"x":192,"y":8192,"t":"random","r":"false"},{"x":235,"y":8192,"t":"random","r":"false"},{"x":314,"y":8192,"t":"random","r":"false"},{"x":368,"y":8192,"t":"random","r":"false"},{"x":424,"y":8192,"t":"random","r":"false"},{"x":2442,"y":8192,"t":"random","r":"false"},
{"x":32,"y":6800,"t":"random","r":"false"},{"x":46.8,"y":6800,"t":"random","r":"false"},{"x":54.3,"y":6800,"t":"random","r":"false"},{"x":95.3,"y":6800,"t":"random","r":"false"},{"x":103,"y":6800,"t":"random","r":"false"},{"x":242,"y":6800,"t":"random","r":"false"},{"x":294,"y":6800,"t":"random","r":"false"},{"x":336,"y":6800,"t":"random","r":"false"},{"x":481,"y":6800,"t":"random","r":"false"},{"x":531,"y":6800,"t":"random","r":"false"},
{"x":6800,"y":2544,"t":"random","r":"false"},{"x":6800,"y":2125,"t":"random","r":"false"},{"x":6800,"y":1069,"t":"random","r":"false"},{"x":6800,"y":670,"t":"random","r":"false"},{"x":6800,"y":303,"t":"random","r":"false"},
{"x":43.9,"y":32.2,"t":"random","r":"true"},{"x":6800,"y":15.2,"t":"random","r":"true"},
{"x":6800,"y":6800,"t":"random","r":"unsolved"},
{"x":6800,"y":3400,"t":"game","r":"false"},{"x":6800,"y":1283,"t":"game","r":"false"},{"x":6800,"y":802,"t":"game","r":"false"},{"x":6800,"y":428,"t":"game","r":"false"},{"x":6800,"y":310,"t":"game","r":"false"},{"x":6800,"y":98.7,"t":"game","r":"false"},{"x":6800,"y":57.4,"t":"game","r":"false"},{"x":6800,"y":46.2,"t":"game","r":"false"},{"x":6800,"y":30,"t":"game","r":"false"},{"x":6800,"y":22.5,"t":"game","r":"false"},{"x":6800,"y":20.2,"t":"game","r":"false"},{"x":6800,"y":18.1,"t":"game","r":"true"},{"x":6800,"y":16.2,"t":"game","r":"true"},
{"x":8192,"y":4070,"t":"game","r":"false"},{"x":8192,"y":1378,"t":"game","r":"false"},{"x":8192,"y":262,"t":"game","r":"false"},{"x":8192,"y":183,"t":"game","r":"false"},{"x":8192,"y":147,"t":"game","r":"false"},{"x":8192,"y":82.5,"t":"game","r":"false"},{"x":8192,"y":44.7,"t":"game","r":"false"},
{"x":8192,"y":3520,"t":"game","r":"true"},{"x":8192,"y":3277,"t":"game","r":"true"},{"x":8192,"y":2048,"t":"game","r":"true"},{"x":8192,"y":1776,"t":"game","r":"true"},{"x":8192,"y":1069,"t":"game","r":"true"},{"x":8192,"y":893,"t":"game","r":"true"},{"x":8192,"y":802,"t":"game","r":"true"},{"x":8192,"y":484,"t":"game","r":"true"},{"x":8192,"y":434,"t":"game","r":"true"},{"x":8192,"y":235,"t":"game","r":"true"},{"x":8192,"y":211,"t":"game","r":"true"},{"x":8192,"y":118,"t":"game","r":"true"},{"x":8192,"y":66.4,"t":"game","r":"true"},{"x":8192,"y":57.4,"t":"game","r":"true"},{"x":8192,"y":32.3,"t":"game","r":"true"},{"x":8192,"y":23.3,"t":"game","r":"true"},{"x":8192,"y":19.4,"t":"game","r":"true"},{"x":8192,"y":17.4,"t":"game","r":"true"},{"x":8192,"y":15.7,"t":"game","r":"true"},{"x":8192,"y":13.6,"t":"game","r":"true"},
{"x":27.1,"y":13.3,"t":"game","r":"true"},{"x":29.5,"y":13.5,"t":"game","r":"true"},{"x":31,"y":13.4,"t":"game","r":"true"},{"x":35.3,"y":13.9,"t":"game","r":"true"},{"x":51.6,"y":13.3,"t":"game","r":"true"},{"x":77.5,"y":14.9,"t":"game","r":"true"},{"x":100.8,"y":13.3,"t":"game","r":"true"},{"x":249,"y":13.7,"t":"game","r":"true"},{"x":841,"y":13.4,"t":"game","r":"true"},{"x":1181,"y":14.6,"t":"game","r":"true"},
{"x":45.6,"y":15.7,"t":"game","r":"false"},{"x":48.2,"y":16.2,"t":"game","r":"false"},{"x":130,"y":15.9,"t":"game","r":"false"},{"x":146,"y":18.6,"t":"game","r":"false"},
{"x":6800,"y":8192,"t":"game","r":"unsolved"},{"x":8192,"y":8192,"t":"game","r":"unsolved"},{"x":8192,"y":6800,"t":"game","r":"unsolved"},
{"x":24.3,"y":13.3,"t":"pattern","r":"true"},{"x":23.6,"y":13.6,"t":"pattern","r":"true"},{"x":25,"y":13.1,"t":"pattern","r":"true"},{"x":24.8,"y":13.8,"t":"pattern","r":"true"}
]},
"hconcat":[
{"width":390,"height":327,
"layer":[
{"data":{"values":[{"v":1800},{"v":2500}]},"mark":{"type":"rule","color":"#333","strokeWidth":1},
"encoding":{"x":{"field":"v","type":"quantitative","scale":{"type":"log","domain":[0.01476,4592],"nice":false},"title":"Nike (cputime)"}}},
{"data":{"values":[{"v":1800},{"v":2500}]},"mark":{"type":"rule","color":"#333","strokeWidth":1},
"encoding":{"y":{"field":"v","type":"quantitative","scale":{"type":"log","domain":[0.0125,4355],"nice":false},"title":"ltlfsynt:bfs−os−nopre (cputime)"}}},
{"data":{"values":[{"x":0.001,"y":0.001},{"x":100000,"y":100000}]},"mark":{"type":"line","color":"#000","strokeWidth":1,"clip":true},
"encoding":{"x":{"field":"x","type":"quantitative","scale":{"type":"log","domain":[0.01476,4592],"nice":false},"title":"Nike (cputime)"},"y":{"field":"y","type":"quantitative","scale":{"type":"log","domain":[0.0125,4355],"nice":false},"title":"ltlfsynt:bfs−os−nopre (cputime)"}}},
{"data":{"name":"cpu"},"mark":{"type":"point","filled":true,"opacity":1,"strokeWidth":0},
"encoding":{
"x":{"field":"x","type":"quantitative","scale":{"type":"log","domain":[0.01476,4592],"nice":false},"title":"Nike (cputime)","axis":{"values":[0.1,1,10,60,240,900,1800,2500],"labelExpr":"datum.value==0.1?'100ms':datum.value==1?'1s':datum.value==10?'10s':datum.value==60?'1min':datum.value==240?'4min':datum.value==900?'15min':datum.value==1800?'T':'M'","titlePadding":2}},
"y":{"field":"y","type":"quantitative","scale":{"type":"log","domain":[0.0125,4355],"nice":false},"title":"ltlfsynt:bfs−os−nopre (cputime)","axis":{"values":[0.1,1,10,60,240,900,1800,2500],"labelExpr":"datum.value==0.1?'100ms':datum.value==1?'1s':datum.value==10?'10s':datum.value==60?'1min':datum.value==240?'4min':datum.value==900?'15min':datum.value==1800?'T':'M'","minExtent":42,"maxExtent":42,"titlePadding":3}},
"color":{"field":"t","type":"nominal","scale":{"domain":["game","pattern","random"],"range":["#F8766D","#00BA38","#619CFF"]},"legend":null},
"shape":{"field":"r","type":"nominal","scale":{"domain":["true","false","unsolved"],"range":["circle","triangle-up","square"]},"legend":{"title":"realizability","orient":"none","legendX":137,"legendY":-35,"direction":"horizontal","titleOrient":"left","symbolFillColor":"#000","symbolStrokeColor":"#000","columnPadding":11,"labelOffset":4,"titlePadding":12}},
"size":{"field":"r","type":"nominal","scale":{"type":"ordinal","domain":["true","false","unsolved"],"range":[72,125,70]},"legend":null}
}}
]},
{"width":380,"height":327,
"layer":[
{"data":{"values":[{"v":6800},{"v":8192}]},"mark":{"type":"rule","color":"#333","strokeWidth":1},
"encoding":{"x":{"field":"v","type":"quantitative","scale":{"type":"log","base":2,"domain":[18,9228],"nice":false},"title":"Nike (memory)"}}},
{"data":{"values":[{"v":6800},{"v":8192}]},"mark":{"type":"rule","color":"#333","strokeWidth":1},
"encoding":{"y":{"field":"v","type":"quantitative","scale":{"type":"log","base":2,"domain":[9.46,11264],"nice":false},"title":"ltlfsynt:bfs−os−nopre (memory)"}}},
{"data":{"values":[{"x":1,"y":1},{"x":100000,"y":100000}]},"mark":{"type":"line","color":"#000","strokeWidth":1,"clip":true},
"encoding":{"x":{"field":"x","type":"quantitative","scale":{"type":"log","base":2,"domain":[18,9228],"nice":false},"title":"Nike (memory)"},"y":{"field":"y","type":"quantitative","scale":{"type":"log","base":2,"domain":[9.46,11264],"nice":false},"title":"ltlfsynt:bfs−os−nopre (memory)"}}},
{"data":{"name":"mem"},"mark":{"type":"point","filled":true,"opacity":1,"strokeWidth":0},
"encoding":{
"x":{"field":"x","type":"quantitative","scale":{"type":"log","base":2,"domain":[18,9228],"nice":false},"title":"Nike (memory)","axis":{"values":[64,256,1024,4096,6800,8192],"labelExpr":"datum.value==6800?'T':datum.value==8192?'M':datum.value+'MB'","titlePadding":2}},
"y":{"field":"y","type":"quantitative","scale":{"type":"log","base":2,"domain":[9.46,11264],"nice":false},"title":"ltlfsynt:bfs−os−nopre (memory)","axis":{"values":[16,64,256,1024,4096,6800,8192],"labelExpr":"datum.value==6800?'T':datum.value==8192?'M':datum.value+'MB'","minExtent":52,"maxExtent":52,"titlePadding":3}},
"color":{"field":"t","type":"nominal","scale":{"domain":["game","pattern","random"],"range":["#F8766D","#00BA38","#619CFF"]},"legend":{"title":"type","orient":"none","legendX":11,"legendY":-35,"direction":"horizontal","titleOrient":"left","symbolType":"circle","columnPadding":12,"labelOffset":4,"titlePadding":12}},
"shape":{"field":"r","type":"nominal","scale":{"domain":["true","false","unsolved"],"range":["circle","triangle-up","square"]},"legend":null},
"size":{"field":"r","type":"nominal","scale":{"type":"ordinal","domain":["true","false","unsolved"],"range":[72,125,70]},"legend":null}
}}
]}
]
}
